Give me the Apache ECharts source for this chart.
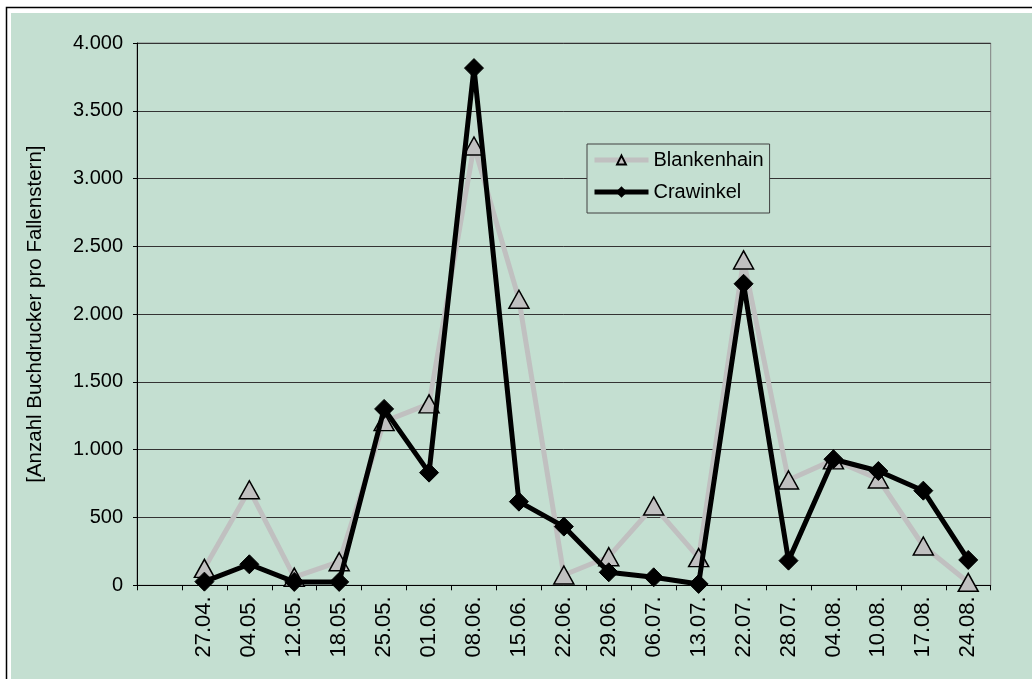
<!DOCTYPE html>
<html>
<head>
<meta charset="utf-8">
<script src="https://cdn.jsdelivr.net/npm/echarts@6/dist/echarts.min.js"></script>
<style>
html,body{margin:0;padding:0;background:#fff;}
#chart{position:absolute;left:0;top:0;width:1032px;height:679px;}
</style>
</head>
<body>
<div id="chart"></div>
<script>
const categories = ['', '27.04.', '04.05.', '12.05.', '18.05.', '25.05.', '01.06.', '08.06.', '15.06.', '22.06.', '29.06.', '06.07.', '13.07.', '22.07.', '28.07.', '04.08.', '10.08.', '17.08.', '24.08.'];
const blankenhain = [null, 125, 705, 60, 174, 1207, 1338, 3240, 2110, 76, 211, 585, 204, 2400, 777, 925, 784, 290, 22];
const crawinkel = [null, 27, 155, 25, 25, 1301, 831, 3815, 617, 433, 96, 59, 10, 2224, 182, 930, 843, 698, 187];
const yTicks = { min: 0, max: 4000, interval: 500 };
const yAxisTitle = '[Anzahl Buchdrucker pro Fallenstern]';

const FONT = 'Liberation Sans, Arial, sans-serif';
const fmt = v => String(v).replace(/\B(?=(\d{3})+(?!\d))/g, '.');

const chart = echarts.init(document.getElementById('chart'));
chart.setOption({
  backgroundColor: '#ffffff',
  animation: false,
  graphic: [
    { type: 'rect', z: -20, silent: true, shape: { x: 6.5, y: 7.5, width: 1100, height: 1100 }, style: { fill: '#ffffff', stroke: '#000000', lineWidth: 1.5 } },
    { type: 'rect', z: -10, silent: true, shape: { x: 11, y: 13, width: 1100, height: 1100 }, style: { fill: '#C4DFD1' } }
  ],
  grid: { left: 137, top: 43, right: 41.3, bottom: 93.7, show: true, borderColor: '#808080', borderWidth: 1, backgroundColor: 'transparent' },
  legend: {
    orient: 'vertical', left: 587, top: 144,
    backgroundColor: '#C4DFD1', borderColor: '#404040', borderWidth: 1,
    padding: [6, 6, 11, 5], itemGap: 12, itemWidth: 54, itemHeight: 11,
    textStyle: { fontFamily: FONT, fontSize: 20, color: '#000' },
    data: [
      { name: 'Blankenhain', lineStyle: { width: 5, color: '#C0C0C0' } },
      { name: 'Crawinkel', lineStyle: { width: 5, color: '#000' } }
    ]
  },
  xAxis: {
    type: 'category', data: categories, boundaryGap: true,
    axisLine: { lineStyle: { color: '#000', width: 1 } },
    axisTick: { show: true, interval: 0, length: 5, lineStyle: { color: '#000' } },
    axisLabel: { interval: 0, rotate: 90, margin: 11, fontFamily: FONT, fontSize: 22, color: '#000' },
    splitLine: { show: false }
  },
  yAxis: {
    type: 'value', min: yTicks.min, max: yTicks.max, interval: yTicks.interval,
    name: yAxisTitle, nameLocation: 'middle', nameRotate: 90, nameGap: 91,
    nameTextStyle: { fontFamily: FONT, fontSize: 20.5, color: '#000' },
    axisLine: { show: true, lineStyle: { color: '#000', width: 1 } },
    axisTick: { show: true, length: 4, lineStyle: { color: '#000' } },
    axisLabel: { margin: 14, fontFamily: FONT, fontSize: 20, color: '#000', formatter: fmt },
    splitLine: { show: true, lineStyle: { color: '#333', width: 1 } }
  },
  series: [
    {
      name: 'Blankenhain', type: 'line', data: blankenhain, z: 2,
      symbol: 'triangle', symbolSize: [20, 18], showAllSymbol: true,
      lineStyle: { color: '#C0C0C0', width: 5 },
      itemStyle: { color: '#C0C0C0', borderColor: '#000', borderWidth: 1.5 },
      connectNulls: false
    },
    {
      name: 'Crawinkel', type: 'line', data: crawinkel, z: 3,
      symbol: 'diamond', symbolSize: [19, 19], showAllSymbol: true,
      lineStyle: { color: '#000', width: 5 },
      itemStyle: { color: '#000', borderColor: '#000', borderWidth: 1 }
    }
  ]
});
</script>
</body>
</html>
